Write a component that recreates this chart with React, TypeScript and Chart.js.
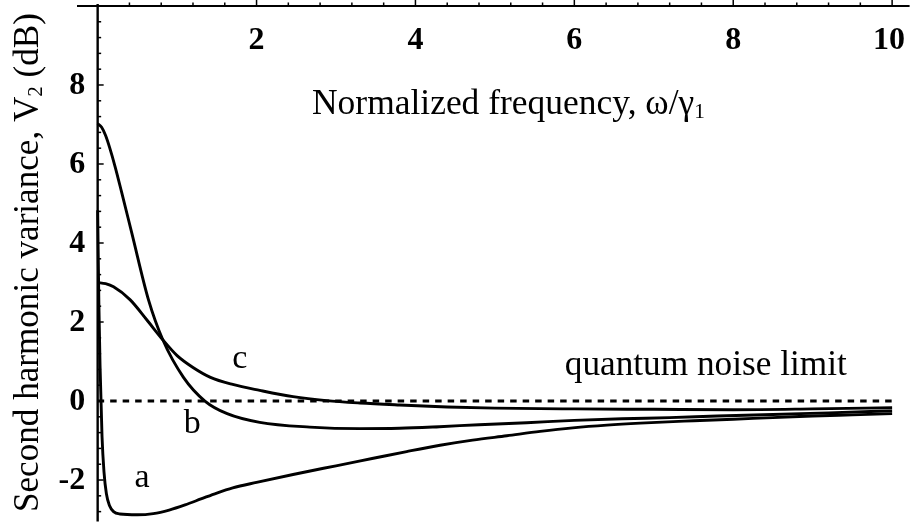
import React, { useEffect, useRef } from "react";
import { Chart, registerables } from "chart.js";

Chart.register(...registerables);

// ---- data ----
const xA = [0, 0.015, 0.03, 0.055, 0.08, 0.11, 0.15, 0.2, 0.28, 0.5, 0.7, 0.9, 1.1, 1.3, 1.5, 1.7, 2.0, 2.46, 3.0, 3.47, 3.89, 4.31, 4.72, 5.15, 5.57, 5.98, 6.41, 6.83, 7.5, 8.0, 8.5, 9.0, 9.5, 10];
const yA = [4.83, 2.5, 0.9, -0.9, -1.8, -2.35, -2.65, -2.8, -2.86, -2.88, -2.85, -2.76, -2.63, -2.48, -2.33, -2.2, -2.06, -1.86, -1.64, -1.45, -1.28, -1.12, -0.99, -0.88, -0.77, -0.68, -0.61, -0.56, -0.5, -0.46, -0.42, -0.38, -0.35, -0.32];

const xB = [0, 0.05, 0.1, 0.15, 0.22, 0.3, 0.43, 0.64, 0.82, 1.08, 1.35, 1.63, 2.04, 2.67, 3.3, 3.8, 4.3, 4.8, 5.4, 6.0, 6.6, 7.2, 7.8, 8.5, 9.2, 10];
const yB = [7.02, 6.93, 6.72, 6.42, 5.93, 5.3, 4.25, 2.56, 1.55, 0.6, 0.0, -0.32, -0.54, -0.66, -0.7, -0.69, -0.65, -0.6, -0.55, -0.49, -0.45, -0.42, -0.38, -0.34, -0.3, -0.25];

const xC = [0, 0.1, 0.2, 0.41, 0.62, 0.82, 1.0, 1.2, 1.42, 1.7, 2.04, 2.46, 2.88, 3.3, 3.8, 4.4, 5.0, 6.0, 7.0, 8.0, 9.0, 10];
const yC = [3.0, 2.97, 2.89, 2.56, 2.05, 1.55, 1.15, 0.85, 0.6, 0.42, 0.27, 0.11, 0.01, -0.05, -0.1, -0.15, -0.18, -0.2, -0.21, -0.22, -0.2, -0.17];

const xLimit = [0, 10];
const yLimit = [0, 0];

const xTickValues = [2, 4, 6, 8, 10];
const xTickLabels = ["2", "4", "6", "8", "10"];
const yTickValues = [-2, 0, 2, 4, 6, 8];
const yTickLabels = ["-2", "0", "2", "4", "6", "8"];

const curveNames = ["a", "b", "c"];
const limitText = "quantum noise limit";
const xTitleParts = ["Normalized frequency, \u03c9/\u03b3", "1"];
const yTitleParts = ["Second harmonic variance, V", "2", " (dB)"];

// ---- layout / style ----
const FONT = '"Liberation Serif", "Times New Roman", serif';
const X_MIN = -0.26, X_MAX = 10.22, Y_MIN = -3.05, Y_MAX = 10.05;
const X_AXIS_AT = 10; // x axis drawn at y = 10
const curveLabelPos = [
  { x: 0.56, y: -2.18 },
  { x: 1.19, y: -0.81 },
  { x: 1.79, y: 0.84 },
];
const limitTextPos = { x: 5.88, y: 0.66 };

const pts = (xs: number[], ys: number[]) => xs.map((x, i) => ({ x, y: ys[i] }));

function richWidth(ctx: CanvasRenderingContext2D, parts: string[], subIdx: number[], s: number) {
  let w = 0;
  parts.forEach((p, i) => {
    const sub = subIdx.includes(i);
    ctx.font = `${sub ? s * 0.6 : s}px ${FONT}`;
    w += ctx.measureText(p).width;
  });
  return w;
}

function drawRich(ctx: CanvasRenderingContext2D, parts: string[], subIdx: number[], x: number, y: number, targetW: number) {
  const s = (100 * targetW) / richWidth(ctx, parts, subIdx, 100);
  let cx = x;
  parts.forEach((p, i) => {
    const sub = subIdx.includes(i);
    ctx.font = `${sub ? s * 0.6 : s}px ${FONT}`;
    ctx.fillText(p, cx, y + (sub ? s * 0.1 : 0));
    cx += ctx.measureText(p).width;
  });
}

const axesPlugin = {
  id: "mathAxes",
  afterDatasetsDraw(chart: any) {
    const ctx: CanvasRenderingContext2D = chart.ctx;
    const xs = chart.scales.x;
    const ys = chart.scales.y;
    const area = chart.chartArea;
    ctx.save();
    ctx.strokeStyle = "#000";
    ctx.fillStyle = "#000";
    ctx.lineCap = "butt";

    const axY = ys.getPixelForValue(X_AXIS_AT);
    const axX = xs.getPixelForValue(0);

    // x axis line
    ctx.lineWidth = 2;
    ctx.beginPath();
    ctx.moveTo(area.left, axY);
    ctx.lineTo(area.right, axY);
    ctx.stroke();
    // x ticks (upward)
    ctx.lineWidth = 1.5;
    for (let i = 1; i <= 25; i++) {
      const v = i * 0.4;
      const px = xs.getPixelForValue(v);
      const len = i % 5 === 0 ? 6 : 3.5;
      ctx.beginPath();
      ctx.moveTo(px, axY);
      ctx.lineTo(px, axY - len);
      ctx.stroke();
    }
    // y axis line
    ctx.lineWidth = 2.4;
    ctx.beginPath();
    ctx.moveTo(axX, axY - 2);
    ctx.lineTo(axX, area.bottom);
    ctx.stroke();
    // y ticks (rightward)
    ctx.lineWidth = 1.5;
    for (let i = -7; i <= 24; i++) {
      const v = i * 0.4;
      const py = ys.getPixelForValue(v);
      const len = i % 5 === 0 ? 6 : 3.5;
      ctx.beginPath();
      ctx.moveTo(axX, py);
      ctx.lineTo(axX + len, py);
      ctx.stroke();
    }

    // tick labels
    ctx.font = `bold 32px ${FONT}`;
    ctx.textBaseline = "middle";
    ctx.textAlign = "center";
    xTickValues.forEach((v, i) => {
      ctx.fillText(xTickLabels[i], xs.getPixelForValue(v) - (i === 4 ? 3 : 0), axY + 35);
    });
    ctx.textAlign = "right";
    yTickValues.forEach((v, i) => {
      ctx.fillText(yTickLabels[i], axX - 12.5, ys.getPixelForValue(v) + 1);
    });

    // curve labels
    ctx.textBaseline = "alphabetic";
    ctx.textAlign = "center";
    ctx.font = `34px ${FONT}`;
    curveNames.forEach((n, i) => {
      ctx.fillText(n, xs.getPixelForValue(curveLabelPos[i].x), ys.getPixelForValue(curveLabelPos[i].y));
    });
    // quantum noise limit
    ctx.textAlign = "left";
    {
      const s = (100 * 282) / richWidth(ctx, [limitText], [], 100);
      ctx.font = `${s}px ${FONT}`;
      ctx.fillText(limitText, xs.getPixelForValue(limitTextPos.x), ys.getPixelForValue(limitTextPos.y));
    }

    // x title (inside plot, under tick labels)
    drawRich(ctx, xTitleParts, [1], 312, axY + 108, 393);

    // y title (rotated)
    ctx.save();
    ctx.translate(38, 512);
    ctx.rotate(-Math.PI / 2);
    drawRich(ctx, yTitleParts, [1], 0, 0, 499);
    ctx.restore();

    ctx.restore();
  },
};

export default function App() {
  const ref = useRef<HTMLCanvasElement | null>(null);
  useEffect(() => {
    document.body.style.margin = "0";
    const canvas = ref.current;
    if (!canvas) return;
    const line = (data: { x: number; y: number }[], extra: any = {}) => ({
      data,
      borderColor: "#000",
      backgroundColor: "#000",
      borderWidth: 2.9,
      pointRadius: 0,
      fill: false,
      cubicInterpolationMode: "monotone",
      ...extra,
    });
    const chart = new Chart(canvas, {
      type: "line",
      data: {
        datasets: [
          line(pts(xA, yA), { label: curveNames[0] }),
          line(pts(xB, yB), { label: curveNames[1] }),
          line(pts(xC, yC), { label: curveNames[2] }),
          line(pts(xLimit, yLimit), { label: limitText, borderDash: [6.5, 6], borderWidth: 3, cubicInterpolationMode: "default", tension: 0 }),
        ],
      },
      options: {
        responsive: false,
        animation: false,
        devicePixelRatio: 1,
        layout: { padding: { left: 77, right: 4.4, top: 4, bottom: 2.5 } },
        plugins: { legend: { display: false }, tooltip: { enabled: false }, title: { display: false } },
        scales: {
          x: { type: "linear", min: X_MIN, max: X_MAX, display: false },
          y: { type: "linear", min: Y_MIN, max: Y_MAX, display: false },
        },
        events: [],
      } as any,
      plugins: [axesPlugin],
    });
    return () => chart.destroy();
  }, []);
  return (
    <div style={{ width: 914, height: 524, background: "#fff" }}>
      <canvas ref={ref} width={914} height={524} style={{ display: "block" }} />
    </div>
  );
}
